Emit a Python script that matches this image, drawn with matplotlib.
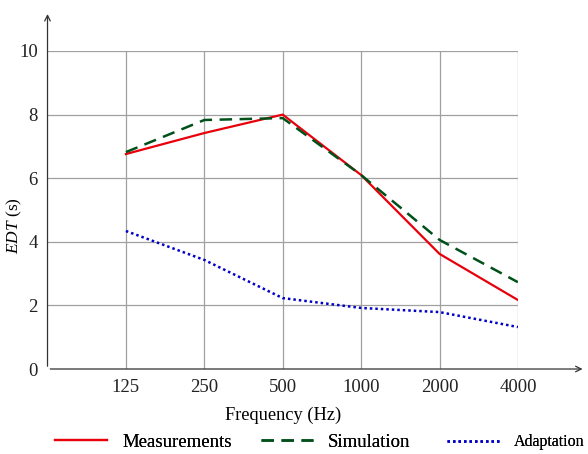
import numpy as np
import matplotlib
matplotlib.use("Agg")
import matplotlib.pyplot as plt

plt.rcParams['font.family'] = ['Liberation Serif', 'DejaVu Serif']
plt.rcParams['mathtext.fontset'] = 'custom'
plt.rcParams['mathtext.rm'] = 'Liberation Serif'
plt.rcParams['mathtext.it'] = 'Liberation Serif:italic'

freqs = ["125", "250", "500", "1000", "2000", "4000"]
measurements = [6.76, 7.42, 8.0, 6.1, 3.62, 2.17]
simulation = [6.82, 7.83, 7.89, 6.1, 4.06, 2.73]
adaptation = [4.34, 3.43, 2.23, 1.92, 1.79, 1.32]

fig = plt.figure(figsize=(5.88, 4.54), dpi=100)
ax = fig.add_axes([0.0808, 0.1872, 0.800, 0.7005])

x = np.arange(1, len(freqs) + 1)
l1, = ax.plot(x, measurements, color="#e8000b", lw=1.6, label="Measurements")
l2, = ax.plot(x, simulation, color="#00501a", lw=1.8, ls=(0, (5, 3)), label="Simulation")
l3, = ax.plot(x, adaptation, color="#0000c8", lw=1.8, ls=(0, (1, 1.2)), label="Adaptation")

ax.set_xlim(0, 6)
ax.set_ylim(0, 10)
ax.set_xticks(x)
ax.set_xticklabels(freqs)
ax.set_yticks([0, 2, 4, 6, 8, 10])
ax.tick_params(length=0, labelsize=13.5, pad=7, colors="#222222")
ax.grid(True, color="#a0a0a0", lw=0.9)
ax.set_axisbelow(True)
for s in ax.spines.values():
    s.set_visible(False)

# axes with arrows
ax.annotate("", xy=(6.86, 0), xytext=(0, 0),
            arrowprops=dict(arrowstyle="->", color="#333333", lw=0.9),
            annotation_clip=False)
ax.annotate("", xy=(0, 11.25), xytext=(0, 0),
            arrowprops=dict(arrowstyle="->", color="#333333", lw=0.9),
            annotation_clip=False)

ax.set_xlabel("Frequency (Hz)", fontsize=13.2, labelpad=8)
ax.set_ylabel("$\\mathit{EDT}$ (s)", fontsize=12.5)
ax.yaxis.set_label_coords(-0.05, 0.45)

# legend entries placed one by one like the original
for handle, xpos, fs in [(l1, 0.0935, 13.5), (l2, 0.4439, 13.5), (l3, 0.7602, 11.5)]:
    lg = fig.legend(handles=[handle], loc="center left", bbox_to_anchor=(xpos, 0.026),
                    frameon=False, fontsize=fs, handlelength=52 / (fs * 100 / 72),
                    handletextpad=15 / (fs * 100 / 72), borderaxespad=0, borderpad=0)
    fig.add_artist(lg)

fig.savefig("out.png", dpi=100)
